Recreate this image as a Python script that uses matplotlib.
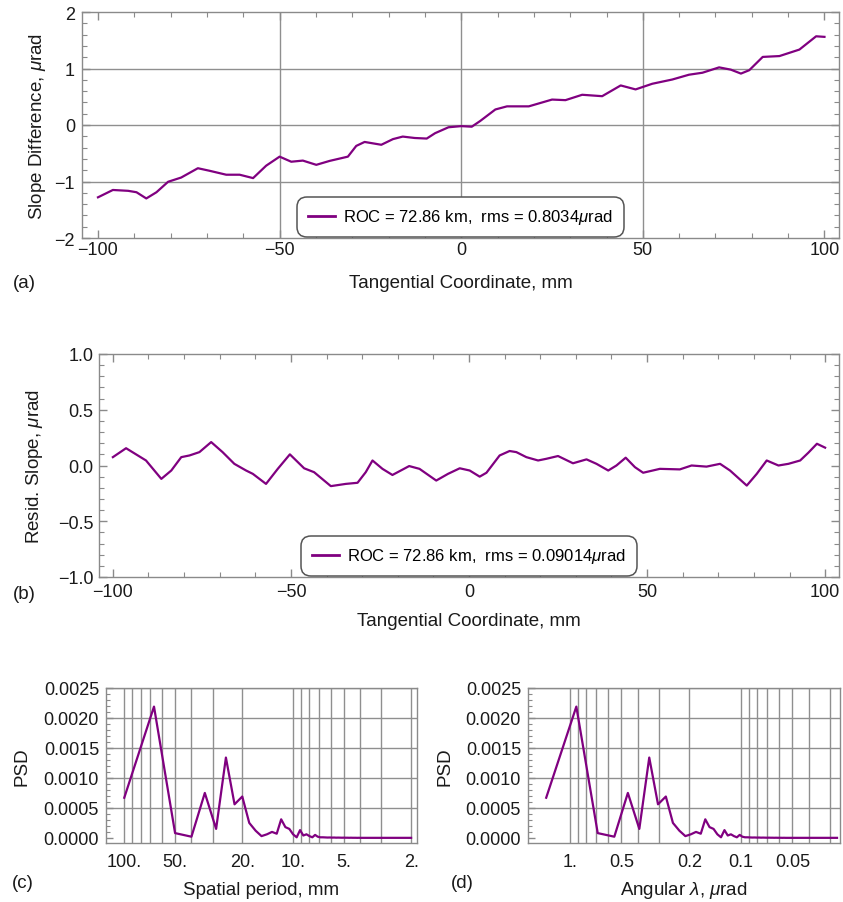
import numpy as np
import matplotlib

matplotlib.use("Agg")
import matplotlib.pyplot as plt
from matplotlib.lines import Line2D
from matplotlib.ticker import FixedLocator, FixedFormatter, MultipleLocator

plt.rcParams.update(
    {
        "font.family": ["Liberation Sans", "DejaVu Sans"],
        "mathtext.fontset": "custom",
        "mathtext.rm": "Liberation Sans",
        "mathtext.it": "Liberation Sans:italic",
        "axes.unicode_minus": True,
    }
)

PURPLE = "#800080"
FRAME = "#8a8a8a"
GRID = "#8f8f8f"
TEXT = "#1a1a1a"
ROC_KM = 72.86

# (a) slope difference vs tangential coordinate
slope_x = [-100, -95.9, -91.7, -89.4, -86.7, -83.9, -80.7, -77.1, -72.5, -69.3,
           -64.7, -61, -57.3, -53.7, -50, -46.8, -43.6, -39.9, -36.2, -31.2,
           -28.9, -26.6, -22, -18.8, -16.1, -12.8, -9.5, -7.2, -3.5, 0,
           2.9, 5.2, 9.4, 12.6, 18.6, 25, 28.7, 33.3, 38.8, 43.9,
           48, 52.6, 58.1, 62.7, 66.4, 71, 74.2, 77, 79.3, 83,
           87.6, 93.1, 97.7, 100]
slope_diff = [-1.28, -1.15, -1.165, -1.19, -1.30, -1.19, -1.005, -0.93, -0.765, -0.81,
              -0.88, -0.88, -0.94, -0.72, -0.56, -0.65, -0.63, -0.705, -0.635, -0.56,
              -0.37, -0.30, -0.35, -0.25, -0.205, -0.23, -0.24, -0.145, -0.04, -0.02,
              -0.03, 0.07, 0.275, 0.33, 0.33, 0.45, 0.44, 0.535, 0.51, 0.70,
              0.63, 0.73, 0.805, 0.89, 0.925, 1.02, 0.98, 0.91, 0.97, 1.205,
              1.22, 1.335, 1.57, 1.56]

# (b) residual slope
resid_x = [-100, -96.3, -93.5, -90.7, -86.4, -83.6, -80.8, -78.5, -75.7, -72.4,
           -69.2, -65.9, -62.6, -60.7, -57, -53.7, -50.3, -46.3, -43.5, -38.8,
           -34.6, -31.3, -29, -27.1, -24.3, -21.5, -16.8, -13.9, -9.2, -5.9,
           -2.6, 0.2, 3, 4.9, 8.6, 11.4, 13.3, 16.1, 19.4, 21.7,
           25, 29.2, 33, 35.8, 39.1, 41.4, 44, 46.6, 48.9, 53.6,
           59.2, 62.5, 66.7, 70.5, 73.3, 78, 80.8, 83.6, 86.9, 89.7,
           93, 95.3, 97.7, 100]
resid = [0.075, 0.155, 0.10, 0.045, -0.12, -0.045, 0.075, 0.09, 0.12, 0.21,
         0.12, 0.015, -0.045, -0.075, -0.165, -0.03, 0.10, -0.025, -0.06, -0.185,
         -0.165, -0.155, -0.06, 0.045, -0.03, -0.085, -0.005, -0.03, -0.135, -0.075,
         -0.025, -0.045, -0.10, -0.065, 0.09, 0.13, 0.12, 0.075, 0.045, 0.06,
         0.085, 0.02, 0.055, 0.015, -0.045, 0.0, 0.07, -0.015, -0.065, -0.03,
         -0.035, 0.0, -0.01, 0.015, -0.045, -0.18, -0.075, 0.045, 0.0, 0.015,
         0.045, 0.115, 0.195, 0.16]

# (c)/(d) PSD per harmonic k = 2..100 of the 200 mm trace
TRACE_MM = 200.0
harmonic = np.arange(2, 101)
psd = [0.00067, 0.00219, 0.00008, 0.00002, 0.00075, 0.00015, 0.00134, 0.00056, 0.00069, 0.00025,
       0.00012, 0.00003, 0.00006, 0.00010, 0.00007, 0.00031, 0.00018, 0.00015, 0.00006, 0.00001,
       0.00013, 0.00004, 0.00006, 0.00003, 0.00001, 0.00005, 0.00002, 0.00001, 0.00001,
       8e-6, 6e-6, 7e-6, 5e-6, 6e-6, 4e-6, 5e-6, 4e-6, 3e-6, 4e-6,
       3e-6, 3e-6, 2e-6, 3e-6, 2e-6, 2e-6, 2e-6, 1e-6, 2e-6, 1e-6,
       1e-6, 1e-6, 1e-6, 1e-6, 1e-6, 1e-6, 1e-6, 1e-6, 1e-6, 1e-6,
       1e-6, 1e-6, 1e-6, 1e-6, 1e-6, 1e-6, 1e-6, 1e-6, 1e-6, 1e-6,
       1e-6, 1e-6, 1e-6, 1e-6, 1e-6, 1e-6, 1e-6, 1e-6, 1e-6, 1e-6,
       1e-6, 1e-6, 1e-6, 1e-6, 1e-6, 1e-6, 1e-6, 1e-6, 1e-6, 1e-6,
       1e-6, 1e-6, 1e-6, 1e-6, 1e-6, 1e-6, 1e-6, 1e-6, 1e-6, 1e-6]
period_mm = TRACE_MM / harmonic
angular_urad = period_mm / ROC_KM

period_major = [100, 50, 20, 10, 5, 2]
period_minor = [90, 80, 70, 60, 40, 30, 9, 8, 7, 6, 4, 3]
angular_major = [1, 0.5, 0.2, 0.1, 0.05]
angular_minor = [0.9, 0.8, 0.7, 0.6, 0.4, 0.3, 0.09, 0.08, 0.07, 0.06, 0.04, 0.03]

TICK_FS = 13
LABEL_FS = 13.5


def style_frame(ax):
    for sp in ax.spines.values():
        sp.set_edgecolor(FRAME)
        sp.set_linewidth(1.0)
    ax.tick_params(which="both", direction="in", color=FRAME, labelcolor=TEXT,
                   labelsize=TICK_FS)


def frame_ticks(ax):
    ax.tick_params(which="both", top=True, right=True)
    ax.tick_params(which="major", length=6, width=1)
    ax.tick_params(which="minor", length=3.5, width=0.8)


def add_legend(ax, text):
    h = Line2D([0], [0], color=PURPLE, lw=2)
    leg = ax.legend([h], [text], loc="lower center", bbox_to_anchor=(0.5, 0.0),
                    fontsize=12, frameon=True, fancybox=True, handlelength=1.6,
                    borderpad=0.45, handletextpad=0.5, borderaxespad=0.25)
    fr = leg.get_frame()
    fr.set_edgecolor("#555555")
    fr.set_linewidth(1.1)
    fr.set_alpha(1)
    fr.set_boxstyle("round,pad=0.2,rounding_size=0.6")


W, H = 843, 903
fig = plt.figure(figsize=(W / 100, H / 100), dpi=100)


def axes_px(l, t, r, b):
    return fig.add_axes([l / W, 1 - b / H, (r - l) / W, (b - t) / H])


# ---- (a)
ax = axes_px(82, 13, 839, 239)
ax.plot(slope_x, slope_diff, color=PURPLE, lw=1.6)
ax.set_xlim(-104.4, 104)
ax.set_ylim(-2, 2)
ax.xaxis.set_major_locator(MultipleLocator(50))
ax.xaxis.set_minor_locator(MultipleLocator(10))
ax.yaxis.set_major_locator(MultipleLocator(1))
ax.yaxis.set_minor_locator(MultipleLocator(0.2))
ax.yaxis.set_major_formatter(FixedFormatter([]))
ax.set_yticks([-2, -1, 0, 1, 2], ["\u22122", "\u22121", "0", "1", "2"])
ax.set_xticks([-100, -50, 0, 50, 100], ["\u2212100", "\u221250", "0", "50", "100"])
for v in (-50, 0, 50):
    ax.axvline(v, color=GRID, lw=1, zorder=0)
for v in (-1, 0, 1):
    ax.axhline(v, color=GRID, lw=1, zorder=0)
style_frame(ax)
frame_ticks(ax)
ax.tick_params(axis="x", pad=2)
ax.tick_params(axis="y", pad=5)
ax.set_xlabel("Tangential Coordinate, mm", fontsize=LABEL_FS, color=TEXT)
ax.xaxis.set_label_coords(0.5, -0.195)
ax.xaxis.label.set_va("center")
ax.set_ylabel(r"Slope Difference, $\mathit{\mu}$rad", fontsize=LABEL_FS, color=TEXT)
ax.yaxis.set_label_coords(-0.0594, 0.5)
ax.yaxis.label.set_va("center")
add_legend(ax, r"ROC = 72.86 km,  rms = 0.8034$\mathit{\mu}$rad")
fig.text(24 / W, 1 - 283 / H, "(a)", fontsize=LABEL_FS, color=TEXT, ha="center", va="center")

# ---- (b)
ax = axes_px(99, 355, 839, 578)
ax.plot(resid_x, resid, color=PURPLE, lw=1.6)
ax.set_xlim(-103.9, 103.9)
ax.set_ylim(-1, 1)
ax.set_xticks([-100, -50, 0, 50, 100], ["\u2212100", "\u221250", "0", "50", "100"])
ax.xaxis.set_minor_locator(MultipleLocator(10))
ax.set_yticks([-1, -0.5, 0, 0.5, 1], ["\u22121.0", "\u22120.5", "0.0", "0.5", "1.0"])
ax.yaxis.set_minor_locator(MultipleLocator(0.1))
style_frame(ax)
frame_ticks(ax)
ax.tick_params(axis="x", pad=4)
ax.tick_params(axis="y", pad=4)
ax.set_xlabel("Tangential Coordinate, mm", fontsize=LABEL_FS, color=TEXT)
ax.xaxis.set_label_coords(0.5, -0.193)
ax.xaxis.label.set_va("center")
ax.set_ylabel(r"Resid. Slope, $\mathit{\mu}$rad", fontsize=LABEL_FS, color=TEXT)
ax.yaxis.set_label_coords(-0.0865, 0.5)
ax.yaxis.label.set_va("center")
add_legend(ax, r"ROC = 72.86 km,  rms = 0.09014$\mathit{\mu}$rad")
fig.text(24 / W, 1 - 595 / H, "(b)", fontsize=LABEL_FS, color=TEXT, ha="center", va="center")


# ---- (c) and (d)
def psd_panel(ax, x, major, minor, labels, xlim, xlabel, ylab_x):
    ax.plot(x, psd, color=PURPLE, lw=1.6)
    ax.set_xscale("log")
    ax.set_xlim(*xlim)
    ax.set_ylim(-0.000085, 0.0025)
    ax.xaxis.set_major_locator(FixedLocator(major))
    ax.xaxis.set_major_formatter(FixedFormatter(labels))
    ax.xaxis.set_minor_locator(FixedLocator(minor))
    ax.xaxis.set_minor_formatter(FixedFormatter([]))
    ax.grid(axis="x", which="both", color=GRID, lw=1)
    yt = [0, 0.0005, 0.0010, 0.0015, 0.0020, 0.0025]
    ax.set_yticks(yt, [f"{v:.4f}" for v in yt])
    ax.yaxis.set_minor_locator(MultipleLocator(0.0001))
    ax.grid(axis="y", which="major", color=GRID, lw=1)
    ax.yaxis.get_gridlines()[0].set_visible(False)
    ax.set_axisbelow(True)
    style_frame(ax)
    ax.tick_params(axis="x", which="both", length=0, pad=7)
    ax.tick_params(axis="y", which="major", length=5, width=1, pad=5)
    ax.tick_params(axis="y", which="minor", length=3, width=0.8)
    ax.set_xlabel(xlabel, fontsize=LABEL_FS, color=TEXT)
    ax.xaxis.set_label_coords(0.5, -0.297)
    ax.xaxis.label.set_va("center")
    ax.set_ylabel("PSD", fontsize=LABEL_FS, color=TEXT)
    ax.yaxis.set_label_coords(ylab_x, 0.5)
    ax.yaxis.label.set_va("center")


ax = axes_px(106, 689, 417, 844)
psd_panel(ax, period_mm, period_major, period_minor,
          ["100.", "50.", "20.", "10.", "5.", "2."], (128.3, 1.845),
          "Spatial period, mm", -0.270)
fig.text(23 / W, 1 - 884 / H, "(c)", fontsize=LABEL_FS, color=TEXT, ha="center", va="center")

ax = axes_px(528, 689, 840, 844)
psd_panel(ax, angular_urad, angular_major, angular_minor,
          ["1.", "0.5", "0.2", "0.1", "0.05"], (1.753, 0.02637),
          r"Angular $\mathit{\lambda}$, $\mathit{\mu}$rad", -0.266)
fig.text(462 / W, 1 - 884 / H, "(d)", fontsize=LABEL_FS, color=TEXT, ha="center", va="center")

fig.savefig("out.png", dpi=100)
